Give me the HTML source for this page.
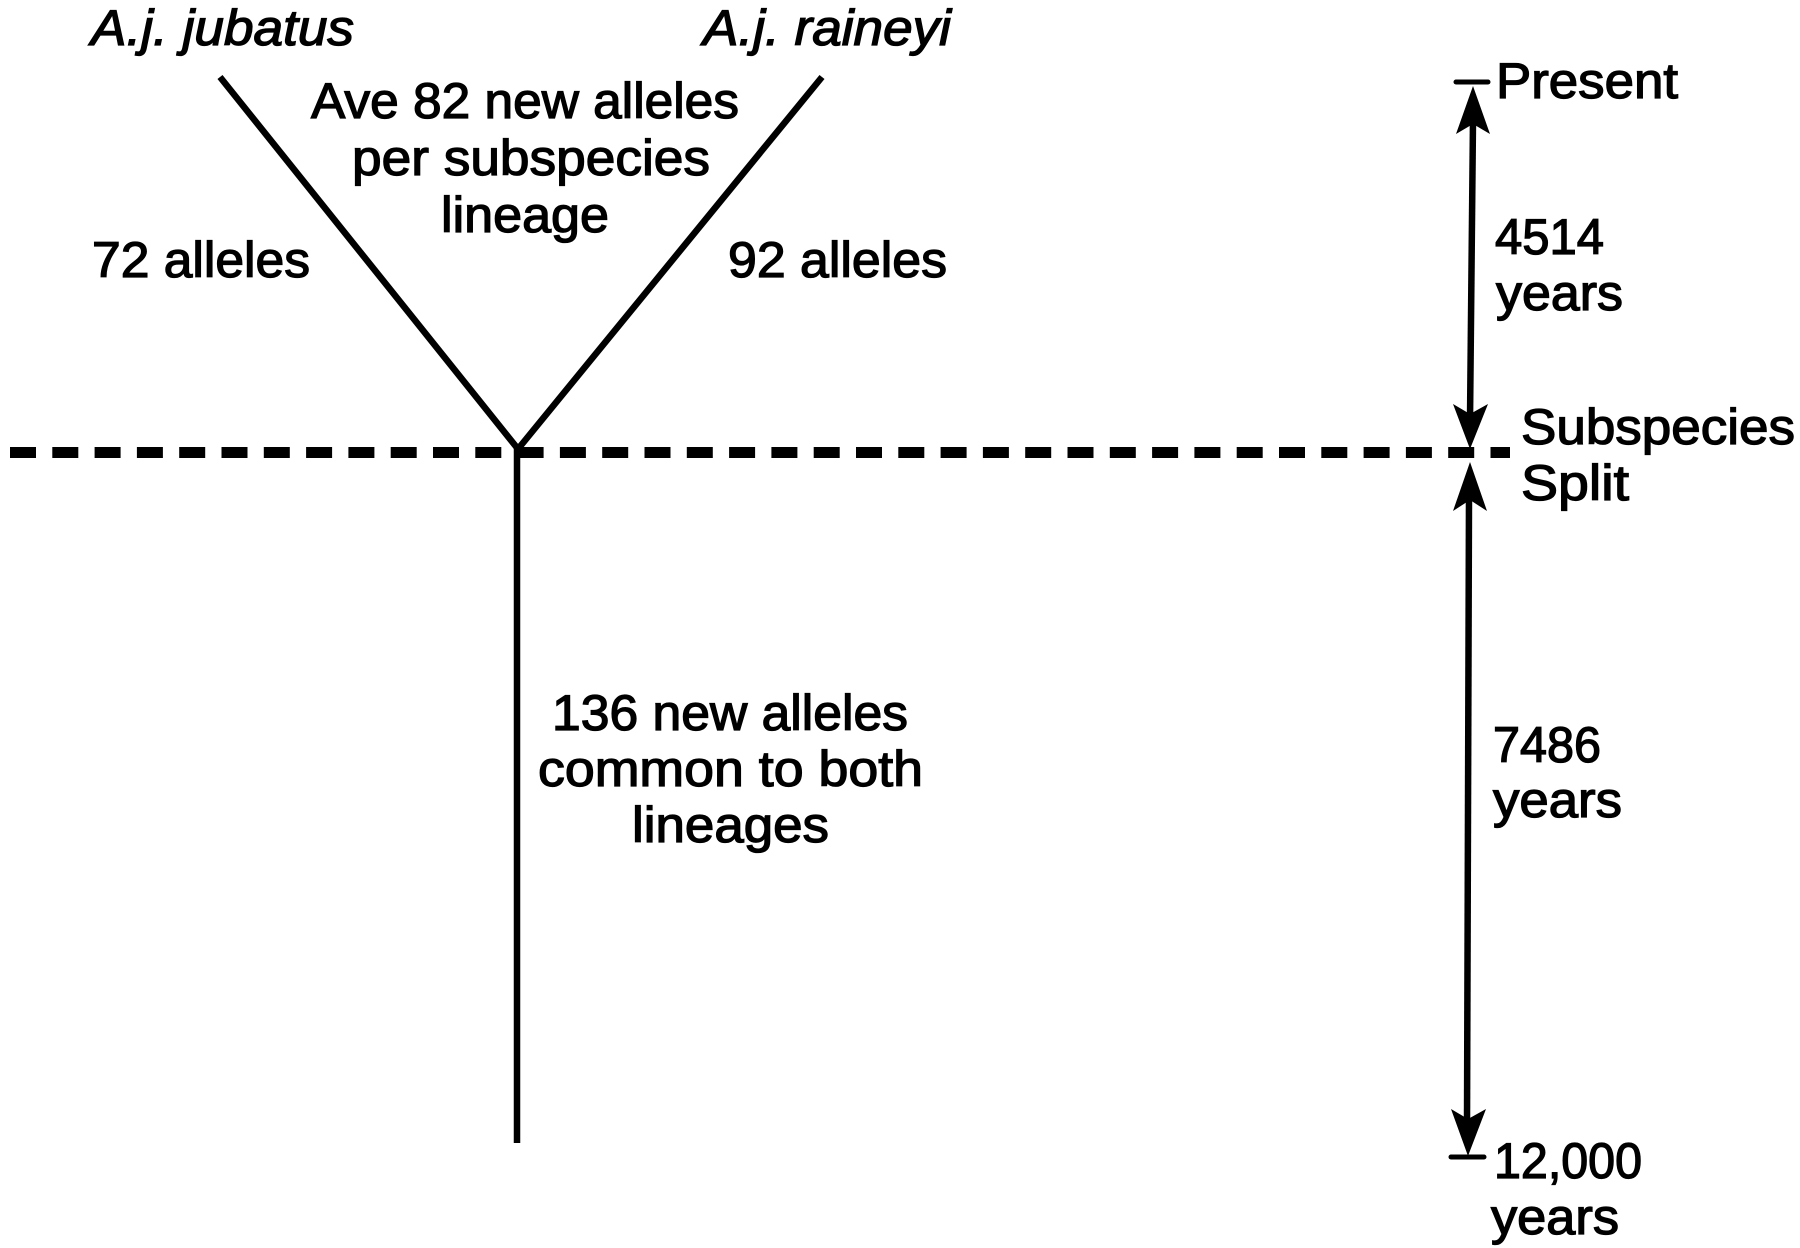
<!DOCTYPE html>
<html><head><meta charset="utf-8"><style>
html,body{margin:0;padding:0;background:#fff;width:1800px;height:1248px;overflow:hidden}
svg{display:block}
text{font-family:"Liberation Sans",sans-serif;font-size:50px;fill:#000;stroke:#000;stroke-width:1.3px}
.i{font-style:italic}
</style></head><body>
<svg width="1800" height="1248" viewBox="0 0 1800 1248" xmlns="http://www.w3.org/2000/svg">
<rect width="1800" height="1248" fill="#fff"/>
<g stroke="#000" fill="none" stroke-width="6.5">
<path d="M220 77L518 449L822 77"/>
<path d="M517 448V1143" stroke-width="6.5"/>
<path d="M10 452.5H1510" stroke-width="11" stroke-dasharray="26 16.3"/>
<path d="M1456 82H1488" stroke-width="5" stroke-linecap="round"/>
<path d="M1451 1157H1484" stroke-width="5" stroke-linecap="round"/>
<path d="M1473 120L1470 420" stroke-width="6.5"/>
<path d="M1469 495L1467 1125" stroke-width="6.5"/>
</g>
<g fill="#000">
<path d="M1473 86L1490 134L1473 124L1456 134Z"/>
<path d="M1470 449L1453 404L1470 414L1488 404Z"/>
<path d="M1470 462L1487 511L1470 500L1453 511Z"/>
<path d="M1468 1156L1451 1109L1468 1119L1486 1109Z"/>
</g>
<text class="i" x="91" y="45" textLength="263" lengthAdjust="spacingAndGlyphs">A.j. jubatus</text>
<text class="i" x="703" y="45" textLength="248" lengthAdjust="spacingAndGlyphs">A.j. raineyi</text>
<text x="311" y="118" textLength="428" lengthAdjust="spacingAndGlyphs">Ave 82 new alleles</text>
<text x="352" y="175" textLength="358" lengthAdjust="spacingAndGlyphs">per subspecies</text>
<text x="441" y="232" textLength="168" lengthAdjust="spacingAndGlyphs">lineage</text>
<text x="92" y="277" textLength="218" lengthAdjust="spacingAndGlyphs">72 alleles</text>
<text x="728" y="277" textLength="219" lengthAdjust="spacingAndGlyphs">92 alleles</text>
<text x="1496" y="98" textLength="182" lengthAdjust="spacingAndGlyphs">Present</text>
<text x="1495" y="254" textLength="109" lengthAdjust="spacingAndGlyphs">4514</text>
<text x="1496" y="310" textLength="127" lengthAdjust="spacingAndGlyphs">years</text>
<text x="1521" y="444" textLength="274" lengthAdjust="spacingAndGlyphs">Subspecies</text>
<text x="1521" y="500" textLength="108" lengthAdjust="spacingAndGlyphs">Split</text>
<text x="552" y="730" textLength="356" lengthAdjust="spacingAndGlyphs">136 new alleles</text>
<text x="538" y="786" textLength="385" lengthAdjust="spacingAndGlyphs">common to both</text>
<text x="632" y="842" textLength="197" lengthAdjust="spacingAndGlyphs">lineages</text>
<text x="1493" y="762" textLength="108" lengthAdjust="spacingAndGlyphs">7486</text>
<text x="1493" y="817" textLength="129" lengthAdjust="spacingAndGlyphs">years</text>
<text x="1494" y="1178" textLength="148" lengthAdjust="spacingAndGlyphs">12,000</text>
<text x="1491" y="1234" textLength="128" lengthAdjust="spacingAndGlyphs">years</text>
</svg>
</body></html>
